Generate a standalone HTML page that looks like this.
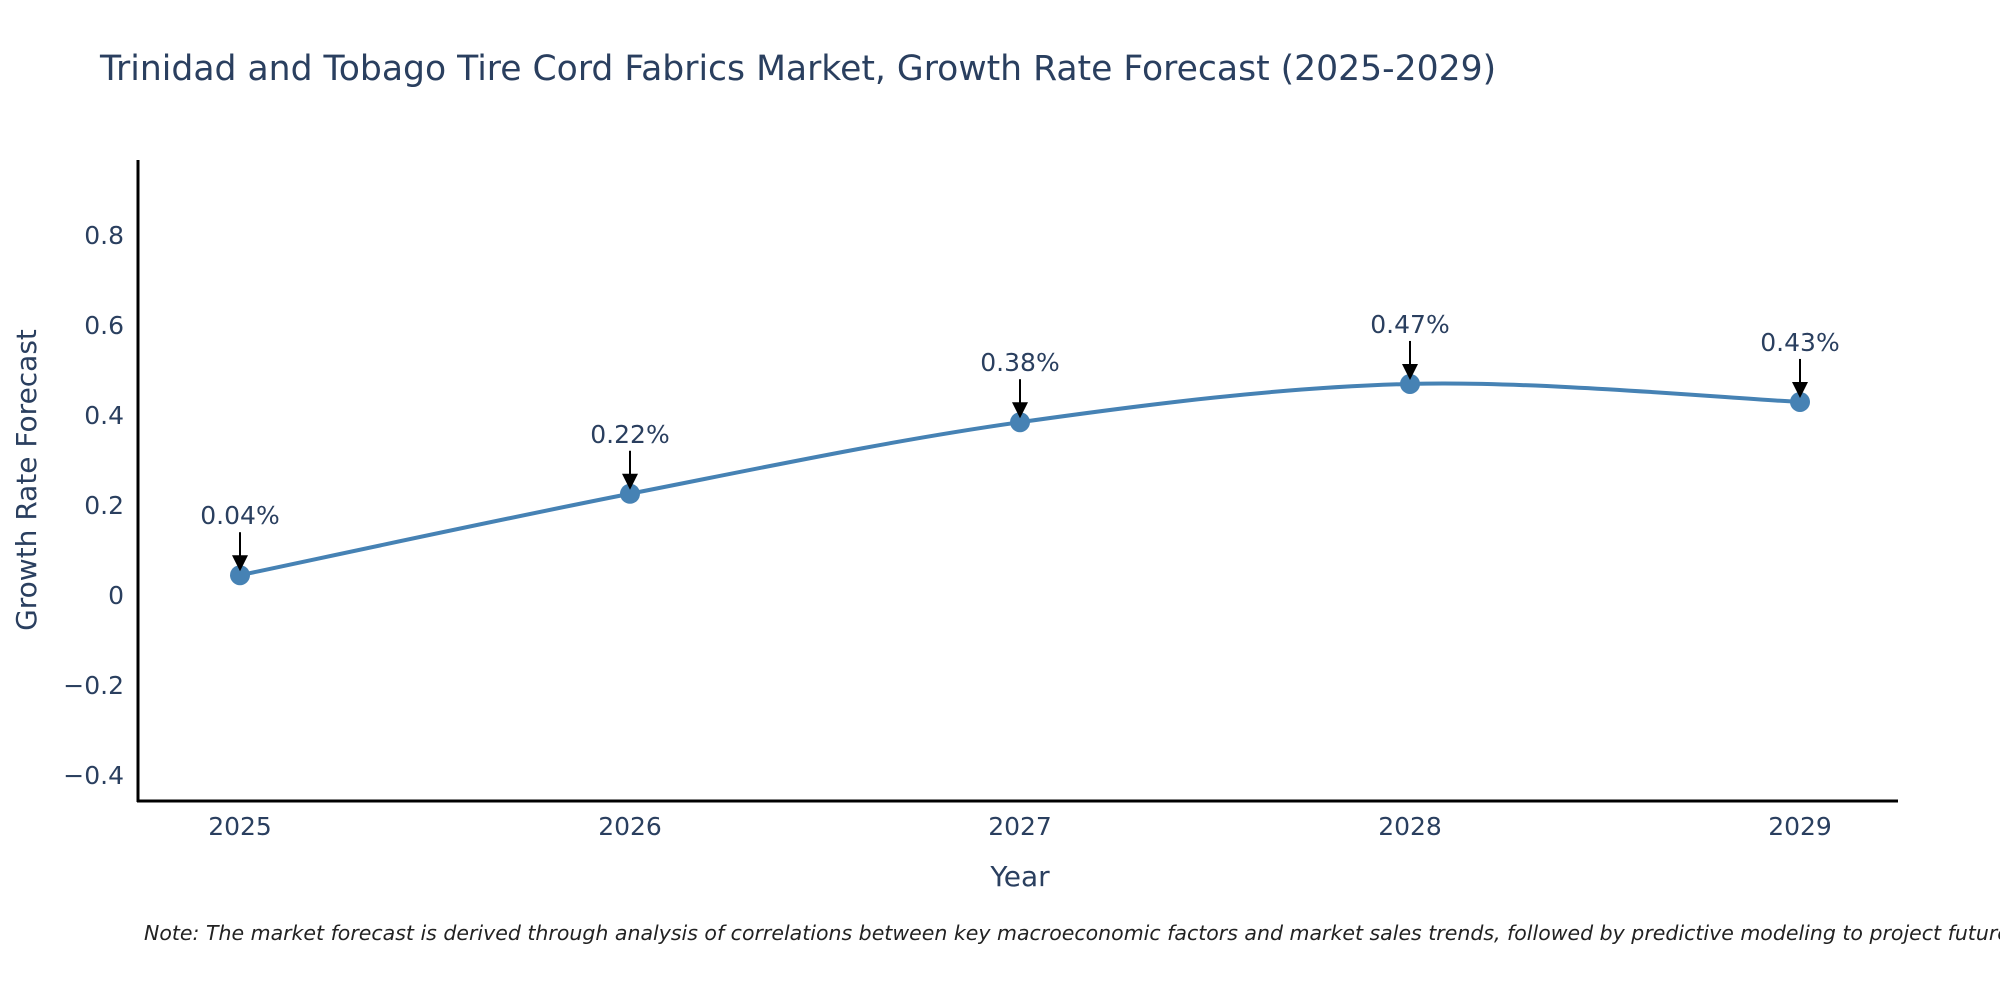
<!DOCTYPE html>
<html><head><meta charset="utf-8"><style>
body{margin:0;background:#fff}
svg text{font-family:"DejaVu Sans","Liberation Sans",sans-serif;fill:#2a3f5f}
</style></head><body>
<svg id="chart" width="2000" height="1000" xmlns="http://www.w3.org/2000/svg">
<rect width="2000" height="1000" fill="#fff"/>
<text x="100" y="80" font-size="34.6">Trinidad and Tobago Tire Cord Fabrics Market, Growth Rate Forecast (2025-2029)</text>
<g id="yticks"></g><g id="xticks"></g>
<line x1="138" y1="160" x2="138" y2="802" stroke="#000" stroke-width="3"/>
<line x1="137" y1="801" x2="1898" y2="801" stroke="#000" stroke-width="3"/>
<text transform="translate(36,480) rotate(-90)" text-anchor="middle" font-size="28">Growth Rate Forecast</text>
<text x="1020" y="886" text-anchor="middle" font-size="28">Year</text>
<g id="series"></g>
<text x="144" y="940" font-size="20.5" font-style="italic" style="fill:#222">Note: The market forecast is derived through analysis of correlations between key macroeconomic factors and market sales trends, followed by predictive modeling to project future sales.</text>
</svg>
<script>
const years=["2025","2026","2027","2028","2029"];
const values=[0.044,0.225,0.384,0.469,0.429];
const valueLabels=["0.04%","0.22%","0.38%","0.47%","0.43%"];
const yTicks=[-0.4,-0.2,0,0.2,0.4,0.6,0.8];
const yTickLabels=["\u22120.4","\u22120.2","0","0.2","0.4","0.6","0.8"];
const NS="http://www.w3.org/2000/svg";
function xs(i){return 240+i*390;}
function ys(v){return 595-v*450;}
function mk(t,a,p){const e=document.createElementNS(NS,t);for(const k in a)e.setAttribute(k,a[k]);p.appendChild(e);return e;}
const yt=document.getElementById('yticks');
yTicks.forEach((v,i)=>{const t=mk('text',{x:124,y:ys(v)+9,'text-anchor':'end','font-size':'25'},yt);


t.textContent=yTickLabels[i];});
const xt=document.getElementById('xticks');
years.forEach((y,i)=>{const t=mk('text',{x:xs(i),y:835,'text-anchor':'middle','font-size':'25'},xt);


t.textContent=y;});
const s=document.getElementById('series');
const P=values.map((v,i)=>[xs(i),ys(v)]);
let d="M"+P[0][0]+","+P[0][1];
for(let i=0;i<P.length-1;i++){const p0=P[Math.max(0,i-1)],p1=P[i],p2=P[i+1],p3=P[Math.min(P.length-1,i+2)];
const k=1/6;d+=` C${p1[0]+(p2[0]-p0[0])*k},${p1[1]+(p2[1]-p0[1])*k} ${p2[0]-(p3[0]-p1[0])*k},${p2[1]-(p3[1]-p1[1])*k} ${p2[0]},${p2[1]}`;}
const line=mk('path',{d:d,fill:'none',stroke:'#4682b4','stroke-width':'4'},s);


P.forEach((p,i)=>{
const c=mk('circle',{cx:p[0],cy:p[1],r:10,fill:'#4682b4'},s);


const a=mk('line',{x1:p[0],y1:p[1]-43,x2:p[0],y2:p[1]-18,stroke:'#000','stroke-width':'2'},s);


const h=mk('polygon',{points:`${p[0]-8},${p[1]-20} ${p[0]+8},${p[1]-20} ${p[0]},${p[1]-4}`,fill:'#000'},s);


const t=mk('text',{x:p[0],y:p[1]-51,'text-anchor':'middle','font-size':'25'},s);


t.textContent=valueLabels[i];});
</script>
</body></html>
